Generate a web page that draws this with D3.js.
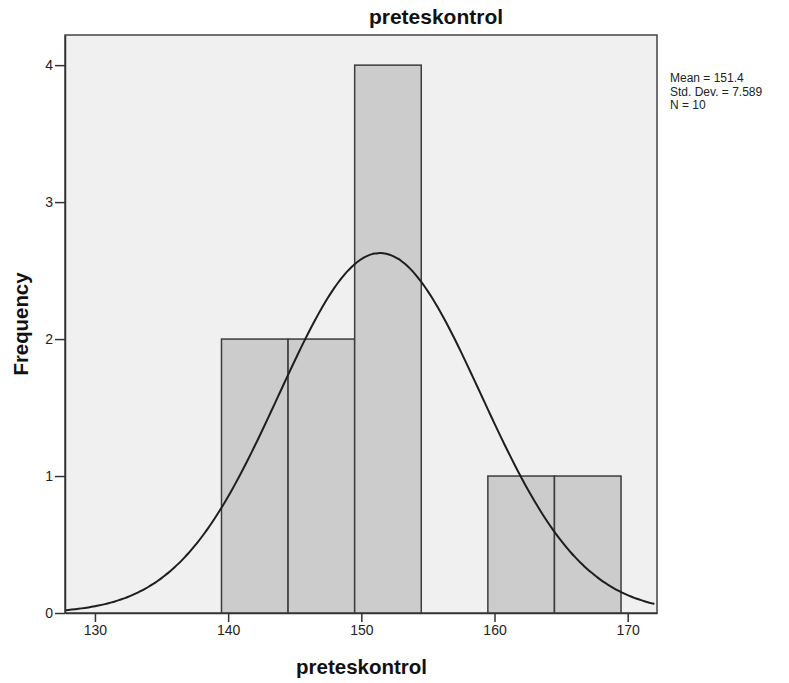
<!DOCTYPE html>
<html>
<head>
<meta charset="utf-8">
<script src="https://cdn.jsdelivr.net/npm/d3@7"></script>
<style>
  body { margin: 0; background: #fff; }
  svg { display: block; }
</style>
</head>
<body>
<svg id="chart" width="789" height="683"></svg>
<script>
// histogram bins (lower edge, width 5) and their counts
const binStarts = [139.5, 144.5, 149.5, 154.5, 159.5, 164.5];
const binWidth = 5;
const counts = [2, 2, 4, 0, 1, 1];
const xTicks = [130, 140, 150, 160, 170];
const yTicks = [0, 1, 2, 3, 4];
const stats = { mean: 151.4, sd: 7.589, n: 10 };
const statLines = ["Mean = 151.4", "Std. Dev. = 7.589", "N = 10"];

const svg = d3.select("#chart");
const plotL = 65, plotR = 657, plotT = 35, plotB = 613;
const sans = "'Liberation Sans', Arial, sans-serif";

let x = d3.scaleLinear().domain([127.75, 172.2]).range([plotL, plotR]);
let y = d3.scaleLinear().domain([0, 4.22]).range([plotB, plotT]);

// plot background
svg.append("rect")
  .attr("x", plotL).attr("y", plotT)
  .attr("width", plotR - plotL).attr("height", plotB - plotT)
  .attr("fill", "#f0f0f0")
  .attr("stroke", "#444").attr("stroke-width", 1.5);

// bars
svg.append("g").selectAll("rect")
  .data(binStarts.map((s, i) => ({ s: s, c: counts[i] })).filter(d => d.c > 0))
  .enter().append("rect")
  .attr("x", d => x(d.s))
  .attr("y", d => y(d.c))
  .attr("width", d => x(d.s + binWidth) - x(d.s))
  .attr("height", d => y(0) - y(d.c))
  .attr("fill", "#cccccc")
  .attr("stroke", "#3c3c3c")
  .attr("stroke-width", 1.5);

// fitted normal curve from the reported mean / sd / N
let scaleK = stats.n * binWidth / (stats.sd * Math.sqrt(2 * Math.PI));
let xs = d3.range(127.75, 172.21, 0.25);
let curve = d3.line()
  .x(d => x(d))
  .y(d => y(scaleK * Math.exp(-0.5 * Math.pow((d - stats.mean) / stats.sd, 2))))
  .curve(d3.curveBasis);
svg.append("path")
  .attr("d", curve(xs))
  .attr("fill", "none")
  .attr("stroke", "#1e1e1e")
  .attr("stroke-width", 2);

// axes
let xAxis = svg.append("g")
  .attr("transform", `translate(0,${plotB})`)
  .call(d3.axisBottom(x).tickValues(xTicks).tickSize(9).tickSizeOuter(0).tickPadding(3));
let yAxis = svg.append("g")
  .attr("transform", `translate(${plotL},0)`)
  .call(d3.axisLeft(y).tickValues(yTicks).tickFormat(d3.format("d"))
    .tickSize(10).tickSizeOuter(0).tickPadding(2));

[xAxis, yAxis].forEach(function (a) {
  a.select(".domain").attr("stroke", "#333").attr("stroke-width", 1.5);
  a.selectAll(".tick line").attr("stroke", "#333").attr("stroke-width", 1.5);
  a.selectAll(".tick text")
    .attr("fill", "#222")
    .style("font-family", sans)
    .style("font-size", "14px");
});

// titles
svg.append("text")
  .attr("x", 436).attr("y", 23.5)
  .attr("text-anchor", "middle")
  .style("font-family", sans)
  .style("font-weight", "bold")
  .style("font-size", "21px")
  .attr("fill", "#111")
  .text("preteskontrol");

svg.append("text")
  .attr("x", 361.5).attr("y", 674)
  .attr("text-anchor", "middle")
  .style("font-family", sans)
  .style("font-weight", "bold")
  .style("font-size", "20.5px")
  .attr("fill", "#111")
  .text("preteskontrol");

svg.append("text")
  .attr("transform", `translate(28,${(plotT + plotB) / 2}) rotate(-90)`)
  .attr("text-anchor", "middle")
  .style("font-family", sans)
  .style("font-weight", "bold")
  .style("font-size", "20.4px")
  .attr("fill", "#111")
  .text("Frequency");

// stats box
svg.append("g").selectAll("text")
  .data(statLines)
  .enter().append("text")
  .attr("x", 670)
  .attr("y", (d, i) => 82 + i * 13.5)
  .style("font-family", sans)
  .style("font-size", "12px")
  .attr("fill", "#222")
  .text(d => d);
</script>
</body>
</html>
